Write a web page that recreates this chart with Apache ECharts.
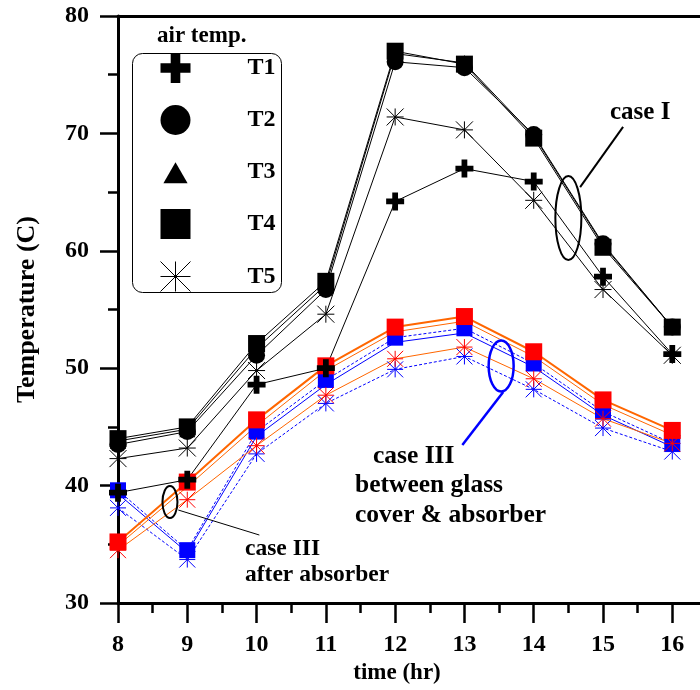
<!DOCTYPE html>
<html>
<head>
<meta charset="utf-8">
<script src="https://cdn.jsdelivr.net/npm/echarts@6/dist/echarts.min.js"></script>
<style>
  html, body { margin: 0; padding: 0; background: #fff; }
  #chart { width: 700px; height: 690px; }
</style>
</head>
<body>
<div id="chart"></div>
<script>
// Hours of the day (x axis)
const hours = [8, 9, 10, 11, 12, 13, 14, 15, 16];
const xTickValues = [8, 9, 10, 11, 12, 13, 14, 15, 16];
const xMinorTickValues = [8.5, 9.5, 10.5, 11.5, 12.5, 13.5, 14.5, 15.5];

// Case I air temperatures (black)
const caseI_T1 = [39.4, 40.5, 48.6, 50.0, 64.2, 67.0, 65.9, 57.8, 51.2];
const caseI_T2 = [43.5, 44.6, 51.1, 56.7, 76.1, 75.6, 69.9, 60.6, 53.5];
const caseI_T3 = [43.8, 44.8, 51.7, 57.1, 76.8, 76.0, 69.8, 60.5, 53.5];
const caseI_T4 = [44.0, 45.0, 52.1, 57.4, 77.0, 75.9, 69.6, 60.3, 53.5];
const caseI_T5 = [42.3, 43.2, 49.8, 54.6, 71.4, 70.3, 64.3, 56.7, 51.1];

// Case III, after absorber (red markers, orange lines)
const absorber_T4 = [35.2, 40.3, 45.6, 50.2, 53.5, 54.4, 51.4, 47.3, 44.7];
const absorber_T3 = [34.9, 39.9, 45.1, 49.8, 53.1, 54.0, 51.0, 46.9, 44.3];
const absorber_T5 = [34.5, 38.8, 43.4, 47.7, 50.8, 51.8, 49.1, 45.7, 43.6];

// Case III, between glass cover & absorber (blue)
const glass_T4 = [39.6, 34.5, 44.6, 49.0, 52.6, 53.4, 50.4, 46.3, 43.6];
const glass_T3 = [39.3, 34.3, 44.2, 48.6, 52.2, 53.0, 50.1, 46.0, 43.3];
const glass_T5 = [38.1, 33.7, 42.7, 47.0, 49.9, 51.0, 48.2, 44.9, 42.9];

const SERIF = '"Liberation Serif", "Times New Roman", serif';

// Marker shapes
const PLUS = 'path://M34,0H66V34H100V66H66V100H34V66H0V34H34Z';
const STAR = 'path://M50,0L50,100M0,50L100,50M0,0L100,100M100,0L0,100';
const SQUARE = 'path://M0,0H100V100H0Z';
const TRIANGLE_ICON = 'path://M-12,-22M112,102M50,0L100,87L0,87Z';

const pairs = (vals) => hours.map((h, i) => [h, vals[i]]);

function lineSeries(name, vals, opt) {
  const s = {
    name: name,
    type: 'line',
    data: pairs(vals),
    xAxisIndex: 0,
    yAxisIndex: 0,
    symbol: opt.symbol || 'none',
    symbolSize: opt.size || 16,
    showSymbol: opt.symbol !== 'none',
    showAllSymbol: true,
    animation: false,
    emphasis: { disabled: true },
    itemStyle: { color: opt.color, opacity: 1 },
    lineStyle: { color: opt.lineColor, width: opt.lineWidth || 1, type: opt.lineType || 'solid' }
  };
  if (opt.stroke) {
    s.itemStyle.borderColor = opt.color;
    s.itemStyle.borderWidth = 1;
  }
  return s;
}

const BLUE = '#0000ff';
const RED = '#ff0000';
const ORANGE = '#ff6600';
const BLACK = '#000000';

const series = [
  lineSeries('glass-T4', glass_T4, { symbol: 'rect', size: 16, color: BLUE, lineColor: BLUE, lineType: [3, 2] }),
  lineSeries('glass-T3', glass_T3, { symbol: 'none', color: BLUE, lineColor: BLUE }),
  lineSeries('glass-T5', glass_T5, { symbol: STAR, size: 16, color: BLUE, lineColor: BLUE, lineType: [3, 2], stroke: true }),
  lineSeries('absorber-T4', absorber_T4, { symbol: 'rect', size: 17, color: RED, lineColor: ORANGE, lineWidth: 2 }),
  lineSeries('absorber-T3', absorber_T3, { symbol: 'none', color: RED, lineColor: ORANGE }),
  lineSeries('absorber-T5', absorber_T5, { symbol: STAR, size: 16, color: RED, lineColor: ORANGE, stroke: true }),
  lineSeries('T5', caseI_T5, { symbol: STAR, size: 17, color: BLACK, lineColor: BLACK, stroke: true }),
  lineSeries('T3', caseI_T3, { symbol: 'triangle', size: 16, color: BLACK, lineColor: BLACK }),
  lineSeries('T2', caseI_T2, { symbol: 'circle', size: 17, color: BLACK, lineColor: BLACK }),
  lineSeries('T4', caseI_T4, { symbol: 'rect', size: 17, color: BLACK, lineColor: BLACK }),
  lineSeries('T1', caseI_T1, { symbol: PLUS, size: 18, color: BLACK, lineColor: BLACK })
];

const boldText = (size) => ({ fontFamily: SERIF, fontWeight: 'bold', fontSize: size, color: '#000' });
const gridBox = { left: 118, right: 0, top: 16, bottom: 87, containLabel: false, outerBoundsMode: 'none' };

const option = {
  backgroundColor: '#fff',
  animation: false,
  grid: [Object.assign({}, gridBox), Object.assign({}, gridBox)],
  xAxis: [
    {
      type: 'value', gridIndex: 0, min: 8, max: 16.4, position: 'bottom',
      splitLine: { show: false },
      axisLine: { show: true, onZero: false, lineStyle: { color: '#000', width: 3 } },
      axisTick: { show: true, customValues: xTickValues, length: 20, lineStyle: { color: '#000', width: 2.5 } },
      axisLabel: { customValues: xTickValues, margin: 30, ...boldText(24) },
      name: 'time (hr)', nameLocation: 'middle', nameGap: 57,
      nameTextStyle: Object.assign(boldText(23), { padding: [0, 24, 0, 0] })
    },
    {
      type: 'value', gridIndex: 0, min: 8, max: 16.4, position: 'top',
      splitLine: { show: false },
      axisLine: { show: true, onZero: false, lineStyle: { color: '#000', width: 3 } },
      axisTick: { show: false }, axisLabel: { show: false }
    },
    {
      type: 'value', gridIndex: 1, min: 8, max: 16.4, position: 'bottom',
      splitLine: { show: false },
      axisLine: { show: false, onZero: false },
      axisTick: { show: true, customValues: xMinorTickValues, length: 10, lineStyle: { color: '#000', width: 2.5 } },
      axisLabel: { show: false }
    }
  ],
  yAxis: [
    {
      type: 'value', gridIndex: 0, min: 30, max: 80, interval: 10,
      splitLine: { show: false },
      axisLine: { show: true, onZero: false, lineStyle: { color: '#000', width: 3 } },
      axisTick: { show: true, length: 18, lineStyle: { color: '#000', width: 2.5 } },
      minorTick: { show: true, splitNumber: 2, length: 10, lineStyle: { color: '#000', width: 2.5 } },
      minorSplitLine: { show: false },
      axisLabel: { margin: 29, ...boldText(24) },
      name: 'Temperature (C)', nameLocation: 'middle', nameGap: 78, nameTextStyle: boldText(26)
    },
    {
      type: 'value', gridIndex: 1, min: 30, max: 80, show: false
    }
  ],
  legend: {
    orient: 'vertical', left: 160, top: 53, padding: 0,
    itemWidth: 30, itemHeight: 30, itemGap: 22,
    selectedMode: false,
    textStyle: Object.assign(boldText(24), { padding: [0, 0, 0, 52] }),
    data: [
      { name: 'T1', icon: PLUS, itemStyle: { color: BLACK, borderWidth: 0 } },
      { name: 'T2', icon: 'circle', itemStyle: { color: BLACK, borderWidth: 0 } },
      { name: 'T3', icon: TRIANGLE_ICON, itemStyle: { color: BLACK, borderWidth: 0 } },
      { name: 'T4', icon: SQUARE, itemStyle: { color: BLACK, borderWidth: 0 } },
      { name: 'T5', icon: STAR, itemStyle: { color: BLACK, borderColor: BLACK, borderWidth: 1 } }
    ]
  },
  series: series
};

const chart = echarts.init(document.getElementById('chart'), null, { renderer: 'canvas' });
chart.setOption(option);

// Legend frame and heading
const decorations = [
  { type: 'rect', z: 1, shape: { x: 132.5, y: 53.5, width: 149, height: 239, r: 10 },
    style: { fill: 'none', stroke: '#000', lineWidth: 1 } },
  { type: 'text', z: 10, style: { text: 'air temp.', x: 157, y: 36, font: 'bold 23px ' + SERIF,
    fill: '#000', align: 'left', verticalAlign: 'middle', textAlign: 'left', textVerticalAlign: 'middle' } }
];

// Annotation groups: ellipse around the curves (data coordinates) with a leader line
const toPx = (p) => chart.convertToPixel({ xAxisIndex: 0, yAxisIndex: 0 }, p);
const annotations = [
  { center: [14.50, 62.79], rx: 13, ry: 42, color: '#000', width: 2,
    lead: [[14.67, 65.43], [15.29, 70.55]], leadWidth: 2,
    labels: [{ text: 'case I', x: 610, y: 113, size: 25 }] },
  { center: [13.53, 50.19], rx: 12.5, ry: 25.5, color: BLUE, width: 2.5,
    lead: [[13.56, 47.97], [12.97, 43.46]], leadWidth: 2.5,
    labels: [
      { text: 'case III', x: 373, y: 456, size: 25.5 },
      { text: 'between glass', x: 355, y: 485, size: 25.5 },
      { text: 'cover & absorber', x: 355, y: 515, size: 25.5 }
    ] },
  { center: [8.75, 38.60], rx: 7.5, ry: 16, color: '#000', width: 2,
    lead: [[8.87, 37.92], [10.04, 35.79]], leadWidth: 1,
    labels: [
      { text: 'case III', x: 245, y: 549, size: 23.5 },
      { text: 'after absorber', x: 245, y: 575, size: 23.5 }
    ] }
];

annotations.forEach((a) => {
  const c = toPx(a.center);
  const p1 = toPx(a.lead[0]);
  const p2 = toPx(a.lead[1]);
  decorations.push({ type: 'ellipse', z: 20, shape: { cx: c[0], cy: c[1], rx: a.rx, ry: a.ry },
    style: { fill: 'none', stroke: a.color, lineWidth: a.width } });
  decorations.push({ type: 'line', z: 20, shape: { x1: p1[0], y1: p1[1], x2: p2[0], y2: p2[1] },
    style: { stroke: a.color, lineWidth: a.leadWidth } });
  a.labels.forEach((l) => {
    decorations.push({ type: 'text', z: 20, style: { text: l.text, x: l.x, y: l.y,
      font: 'bold ' + l.size + 'px ' + SERIF, fill: '#000',
      align: 'left', verticalAlign: 'middle', textAlign: 'left', textVerticalAlign: 'middle' } });
  });
});

chart.setOption({ graphic: { elements: decorations } });
</script>
</body>
</html>
